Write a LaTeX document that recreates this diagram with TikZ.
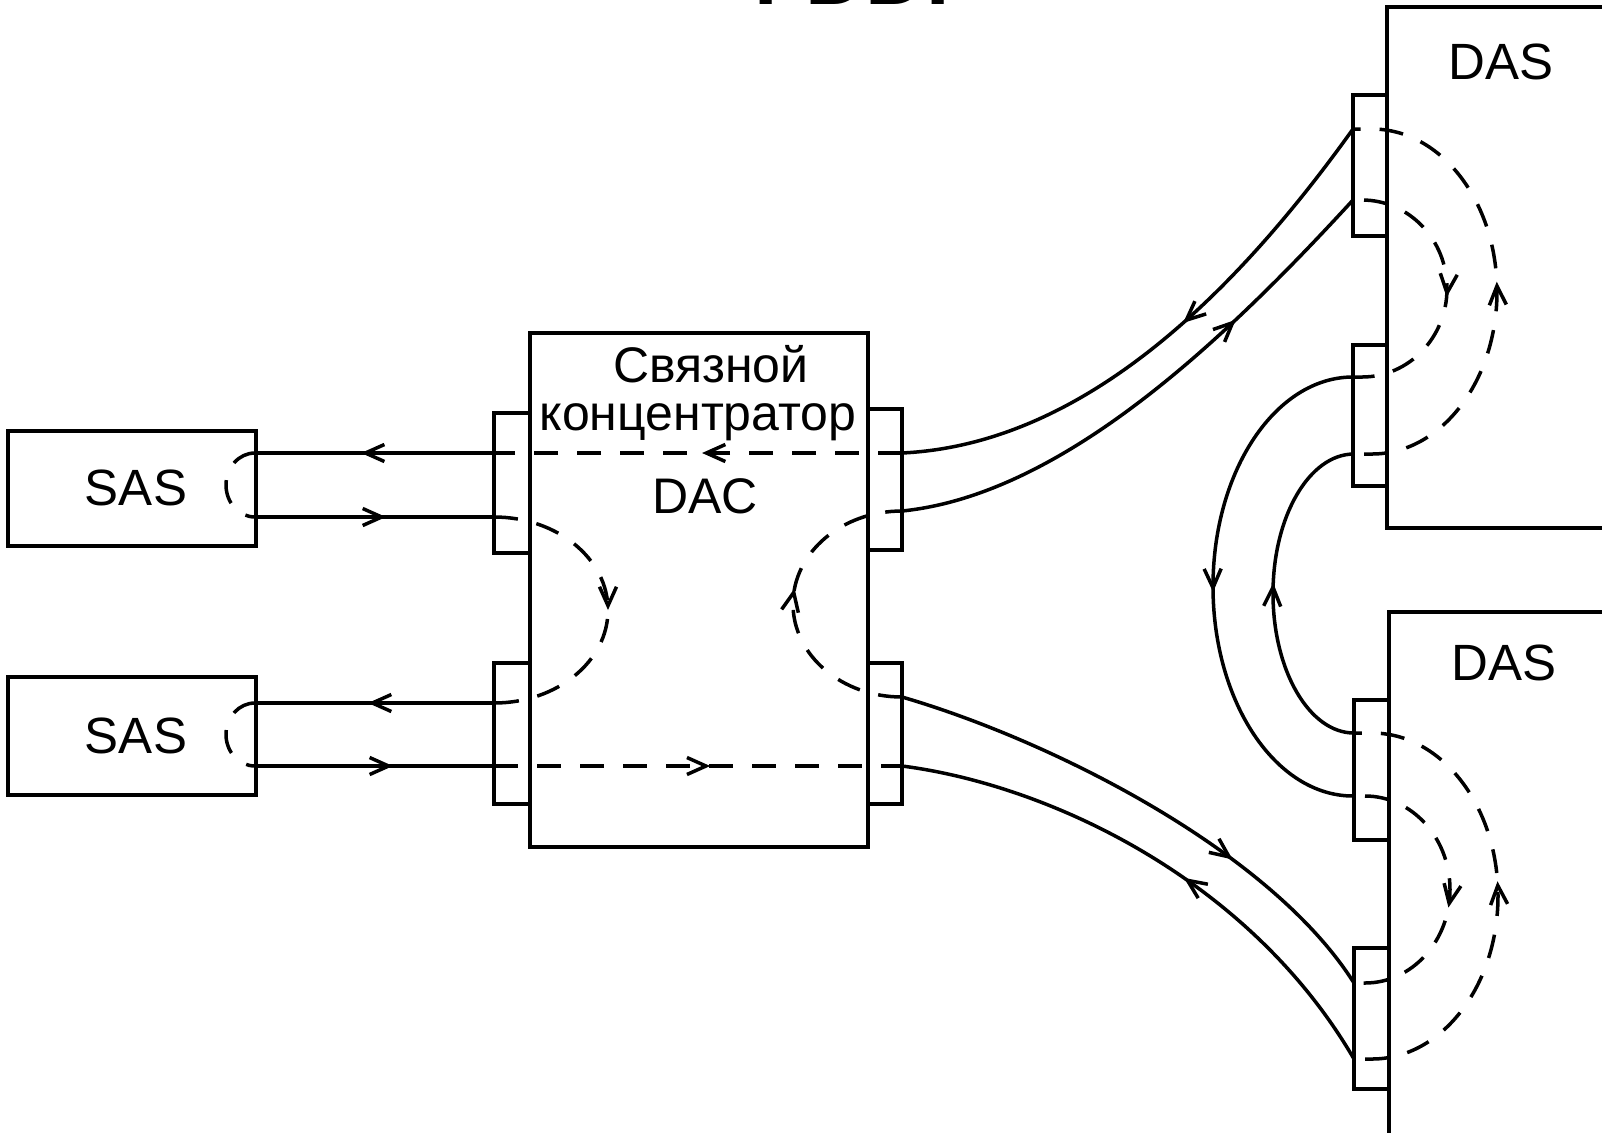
\documentclass[tikz,border=0pt]{standalone}
\usepackage{fontspec}
\setmainfont{Liberation Sans}
\usetikzlibrary{arrows.meta,decorations.markings,fit}
\begin{document}
\begin{tikzpicture}[x=0.5pt,y=0.5pt,
  box/.style={draw, line width=1.9pt, inner sep=0pt, outer sep=0pt},
  wire/.style={line width=1.75pt},
  dsh/.style={line width=1.75pt, dash pattern=on 12pt off 9.5pt},
  midarrow/.style={postaction={decorate,decoration={markings,mark=at position #1 with {\arrow[line width=1.75pt]{Straight Barb[length=9.5pt,width=8.5pt]}}}}},
  lbl/.style={anchor=base, inner sep=0pt, font=\fontsize{25.5}{30}\selectfont},
  lbls/.style={anchor=base, inner sep=0pt, font=\fontsize{25}{30}\selectfont}
]
\useasboundingbox (0,0) rectangle (1602,-1132);
\clip (0,0) rectangle (1602,-1132);

% title (cut off at the top edge, as in the reference)
\node[anchor=base, inner sep=0pt, font=\fontsize{42}{48}\bfseries\selectfont] (title) at (852,-4) {FDDI};

% boxes
\node[box, fit={(8,-431) (256,-546)}] (sas1) {};
\node[box, fit={(8,-677) (256,-795)}] (sas2) {};
\node[box, fit={(530,-333) (868,-847)}] (dac) {};
\node[box, fit={(494,-413) (530,-553)}] (pl1) {};
\node[box, fit={(494,-663) (530,-804)}] (pl2) {};
\node[box, fit={(868,-409) (902,-550)}] (pr1) {};
\node[box, fit={(868,-663) (902,-804)}] (pr2) {};
\node[box, fit={(1387,-7) (1625,-528)}] (das1) {};
\node[box, fit={(1353,-95) (1387,-236)}] (qa) {};
\node[box, fit={(1353,-345) (1387,-486)}] (qb) {};
\node[box, fit={(1389,-612) (1625,-1150)}] (das2) {};
\node[box, fit={(1354,-700) (1389,-840)}] (ra) {};
\node[box, fit={(1354,-948) (1389,-1089)}] (rb) {};

% labels
\node[lbl] (tsas1) at (136,-505) {SAS};
\node[lbl] (tsas2) at (136,-753) {SAS};
\node[lbls] (tdac1) at (711,-382) {Связной};
\node[lbls] (tdac2) at (698,-430) {концентратор};
\node[lbls] (tdac3) at (705,-513) {DAC};
\node[lbl] (tdas1) at (1501,-79) {DAS};
\node[lbl] (tdas2) at (1504,-680) {DAS};

% connection points
\coordinate (s1a) at (255,-453); \coordinate (s1b) at (255,-517);
\coordinate (s2a) at (255,-703); \coordinate (s2b) at (255,-766);
\coordinate (l1a) at (494,-453); \coordinate (l1b) at (494,-517);
\coordinate (l2a) at (494,-703); \coordinate (l2b) at (494,-766);
\coordinate (r1a) at (902,-453); \coordinate (r1b) at (902,-511);
\coordinate (r2a) at (902,-697); \coordinate (r2b) at (902,-766);
\coordinate (qa1) at (1353,-129); \coordinate (qa2) at (1353,-200);
\coordinate (qb1) at (1353,-377); \coordinate (qb2) at (1353,-454);
\coordinate (ra1) at (1354,-733); \coordinate (ra2) at (1354,-796);
\coordinate (rb1) at (1354,-983); \coordinate (rb2) at (1354,-1059);

% SAS loops
\draw[dsh] (s1a) arc[start angle=90,end angle=270,x radius=29,y radius=32];
\draw[dsh] (s2a) arc[start angle=90,end angle=270,x radius=29,y radius=31.5];

% SAS <-> DAC lines
\draw[wire,midarrow=0.556] (l1a) -- (s1a);
\draw[wire,midarrow=0.548] (s1b) -- (l1b);
\draw[wire,midarrow=0.527] (l2a) -- (s2a);
\draw[wire,midarrow=0.577] (s2b) -- (l2b);

% inside DAC
\draw[dsh,midarrow=0.49] (r1a) -- (l1a);
\draw[dsh,midarrow=0.53] (l2b) -- (r2b);
\draw[dsh,midarrow=0.5] (l1b) arc[start angle=90,end angle=-90,x radius=114,y radius=93];
\draw[dsh,midarrow=0.55] (r2a) arc[start angle=270,end angle=90,x radius=109,y radius=93];

% DAC <-> DAS curves
\draw[wire,midarrow=0.45] (qa1) .. controls (1220,-315) and (1070,-445) .. (r1a);
\draw[wire,midarrow=0.7] (r1b) .. controls (1060,-495) and (1220,-345) .. (qa2);
\draw[wire,midarrow=0.68] (r2a) .. controls (1050,-740) and (1270,-850) .. (rb1);
\draw[wire,midarrow=0.45] (rb2) .. controls (1250,-880) and (1050,-785) .. (r2b);

% DAS <-> DAS arcs
\draw[wire,midarrow=0.51] (qb1) arc[start angle=90,end angle=270,x radius=140,y radius=209.5];
\draw[wire,midarrow=0.53] (ra1) arc[start angle=270,end angle=90,x radius=81,y radius=139.5];

% loops inside DAS
\draw[dsh,dash phase=16pt,midarrow=0.53] (qa2) -- ++(9,0) arc[start angle=90,end angle=-90,x radius=85,y radius=88.5] -- (qb1);
\draw[dsh,dash phase=16pt,midarrow=0.52] (qb2) -- ++(19,0) arc[start angle=-90,end angle=90,x radius=125,y radius=162.5] -- (qa1);
\draw[dsh,dash phase=16pt,midarrow=0.56] (ra2) -- ++(11,0) arc[start angle=90,end angle=-90,x radius=85,y radius=93.5] -- (rb1);
\draw[dsh,dash phase=16pt,midarrow=0.53] (rb2) -- ++(18,0) arc[start angle=-90,end angle=90,x radius=126,y radius=163] -- (ra1);
\end{tikzpicture}
\end{document}
